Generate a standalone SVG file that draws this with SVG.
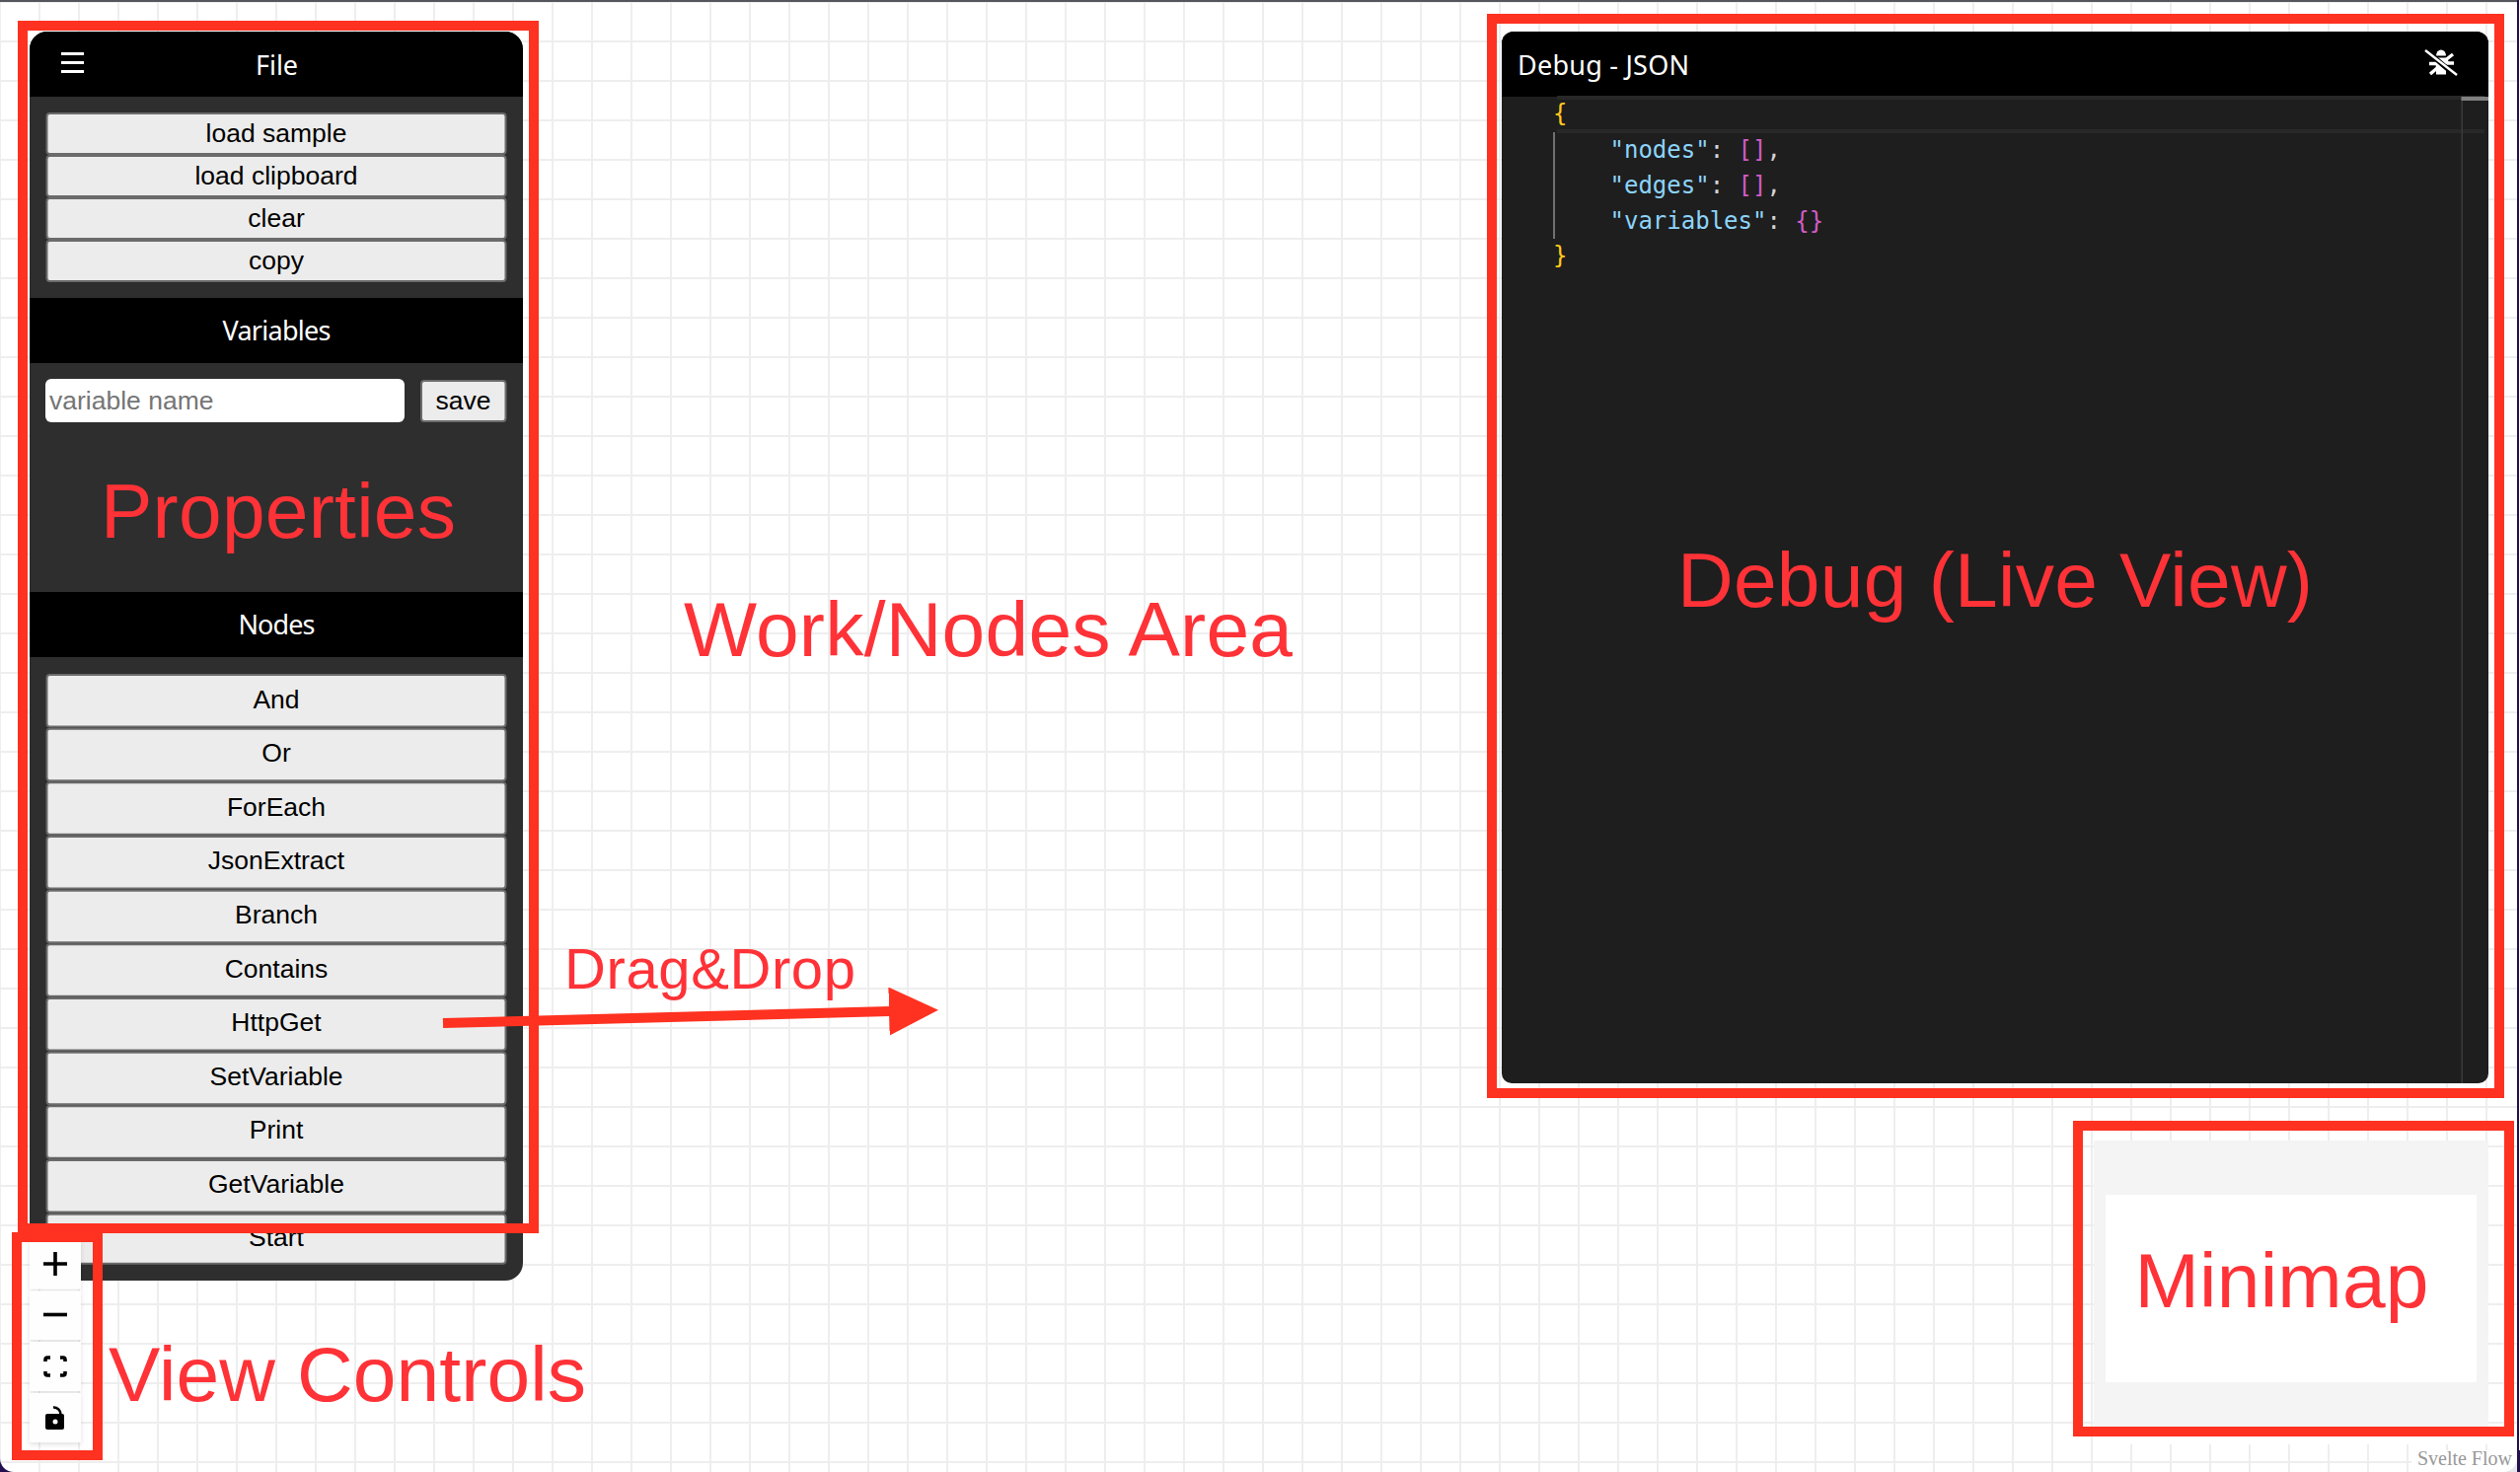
<svg xmlns="http://www.w3.org/2000/svg" width="2554" height="1492" viewBox="0 0 2554 1492">
<style>
.btn{fill:#ececec;stroke:#6b6b6b;stroke-width:2}
.bt{font-family:"Liberation Sans",Arial,sans-serif;font-size:26.5px;fill:#000;text-anchor:middle}
.hd{font-family:"Noto Sans","DejaVu Sans",sans-serif;font-size:27px;fill:#fff;text-anchor:middle}
.frame{fill:none;stroke:#ff3120;stroke-width:10}
.lb{font-family:"Liberation Sans",Arial,sans-serif;font-size:78.5px;fill:#fe3237}
.code{font-family:"DejaVu Sans Mono",monospace;font-size:24px}
.key{fill:#8dd4fa}.gold{fill:#ffc81c}.pink{fill:#d05cc4}.pun{fill:#d4d4d4}
.ico{fill:none;stroke:#000;stroke-width:3.6}
.ctl{fill:#fefefe}
</style>
<defs>
<pattern id="grid" x="-1" y="1" width="40" height="40" patternUnits="userSpaceOnUse">
<rect width="40" height="40" fill="#fff"/><rect width="2" height="40" fill="#eee"/><rect width="40" height="2" fill="#eee"/>
</pattern>
<marker id="head" markerUnits="userSpaceOnUse" markerWidth="50" markerHeight="50" refX="1" refY="24.5" orient="auto">
<path d="M0 0L50 24.5L0 49Z" fill="#ff3120"/>
</marker>
<filter id="sh" x="-20%" y="-20%" width="140%" height="140%"><feDropShadow dx="0" dy="2" stdDeviation="2.5" flood-color="#000" flood-opacity=".12"/></filter>
</defs>
<g id="window">
<rect width="2554" height="1492" fill="#24104f"/>
<path d="M0 2H2551V1478a14 14 0 0 1-14 14H14a14 14 0 0 1-14-14Z" fill="url(#grid)"/>
<rect x="0" y="0" width="2551" height="2" fill="#55555c"/>
<rect x="2553" y="0" width="1" height="1470" fill="#fff"/>
</g>
<g id="properties-panel">
<rect x="30" y="32" width="500" height="1266" rx="18" fill="#2e2e2e"/>
<path d="M30 98V50a18 18 0 0 1 18-18H512a18 18 0 0 1 18 18V98Z" fill="#000"/>
<g fill="#fff"><rect x="62" y="53" width="23" height="3"/><rect x="62" y="62" width="23" height="3"/><rect x="62" y="71" width="23" height="3"/></g>
<text class="hd" x="280.500" y="76">File</text>
<rect x="30" y="302" width="500" height="66" fill="#000"/>
<text class="hd" x="280.500" y="345" textLength="110">Variables</text>
<rect x="30" y="600" width="500" height="66" fill="#000"/>
<text class="hd" x="280.500" y="643" textLength="78">Nodes</text>
<g id="file-buttons">
<rect class="btn" x="47.500" y="115" width="465" height="41" rx="3"/><text class="bt" x="280" y="144">load sample</text>
<rect class="btn" x="47.500" y="158" width="465" height="41" rx="3"/><text class="bt" x="280" y="187">load clipboard</text>
<rect class="btn" x="47.500" y="201" width="465" height="41" rx="3"/><text class="bt" x="280" y="230">clear</text>
<rect class="btn" x="47.500" y="244" width="465" height="41" rx="3"/><text class="bt" x="280" y="273">copy</text>
</g>
<g id="variable-form">
<rect x="46" y="384" width="364" height="44" rx="6" fill="#fff"/>
<text x="50" y="415" font-family="Liberation Sans,Arial,sans-serif" font-size="26.500" fill="#757575">variable name</text>
<rect class="btn" x="427" y="386" width="85.500" height="41" rx="3"/><text class="bt" x="469.500" y="415">save</text>
</g>
<g id="node-buttons">
<rect class="btn" x="47.500" y="684" width="465" height="52.500" rx="3"/><text class="bt" x="280" y="717.500">And</text>
<rect class="btn" x="47.500" y="738.700" width="465" height="52.500" rx="3"/><text class="bt" x="280" y="771.500">Or</text>
<rect class="btn" x="47.500" y="793.300" width="465" height="52.500" rx="3"/><text class="bt" x="280" y="826.500">ForEach</text>
<rect class="btn" x="47.500" y="848" width="465" height="52.500" rx="3"/><text class="bt" x="280" y="880.700">JsonExtract</text>
<rect class="btn" x="47.500" y="902.700" width="465" height="52.500" rx="3"/><text class="bt" x="280" y="935.700">Branch</text>
<rect class="btn" x="47.500" y="957.300" width="465" height="52.500" rx="3"/><text class="bt" x="280" y="990.500">Contains</text>
<rect class="btn" x="47.500" y="1012" width="465" height="52.500" rx="3"/><text class="bt" x="280" y="1044.700">HttpGet</text>
<rect class="btn" x="47.500" y="1066.700" width="465" height="52.500" rx="3"/><text class="bt" x="280" y="1099.700">SetVariable</text>
<rect class="btn" x="47.500" y="1121.300" width="465" height="52.500" rx="3"/><text class="bt" x="280" y="1153.800">Print</text>
<rect class="btn" x="47.500" y="1176" width="465" height="52.500" rx="3"/><text class="bt" x="280" y="1208.500">GetVariable</text>
<rect class="btn" x="47.500" y="1230.700" width="465" height="50" rx="3"/><text class="bt" x="280" y="1262.700">Start</text>
</g>
</g>
<g id="debug-panel">
<path d="M1522 98V44a12 12 0 0 1 12-12H2510a12 12 0 0 1 12 12V1088a10 10 0 0 1-10 10H1532a10 10 0 0 1-10-10Z" fill="#1e1e1e"/>
<path d="M1522 98V44a12 12 0 0 1 12-12H2510a12 12 0 0 1 12 12V98Z" fill="#000"/>
<text class="hd" x="1538" y="76" style="text-anchor:start" textLength="174">Debug - JSON</text>
<g id="debug-icon">
<path d="M2469 56.500a4.500 5.500 0 0 1 10 0Z" fill="#fff"/>
<path d="M2468 58.500H2479.500L2482 63L2479 66V75.500H2469V70Z" fill="#fff"/>
<path d="M2462 64.500H2470M2463 75L2470 69M2486 55L2479 60.500M2480 64H2487" stroke="#fff" stroke-width="3.400" fill="none"/>
<path d="M2461 53L2489 77" stroke="#000" stroke-width="5" fill="none"/>
<path d="M2458 51L2490 76" stroke="#fff" stroke-width="2.400" fill="none"/>
</g>
<path d="M1578 99H2518M1578 133H2518" stroke="#282828" stroke-width="4" fill="none"/>
<rect x="2494.500" y="98" width="1.500" height="1000" fill="#3a3a3a"/>
<rect x="2494.500" y="98" width="27.500" height="4" fill="#808080"/>
<rect x="1574" y="134" width="2" height="108" fill="#707070"/>
<g id="json-text" class="code">
<text x="1574" y="123" class="gold">{</text>
<text x="1631.500" y="160" class="key">"nodes"<tspan class="pun">: </tspan><tspan class="pink">[]</tspan><tspan class="pun">,</tspan></text>
<text x="1631.500" y="196" class="key">"edges"<tspan class="pun">: </tspan><tspan class="pink">[]</tspan><tspan class="pun">,</tspan></text>
<text x="1631.500" y="232" class="key">"variables"<tspan class="pun">: </tspan><tspan class="pink">{}</tspan></text>
<text x="1574" y="267" class="gold">}</text>
</g>
</g>
<g id="view-controls" filter="url(#sh)">
<rect class="ctl" x="30" y="1256" width="52" height="50.500"/>
<rect class="ctl" x="30" y="1308.500" width="52" height="49.500"/>
<rect class="ctl" x="30" y="1360" width="52" height="50"/>
<rect class="ctl" x="30" y="1412" width="52" height="50"/>
</g>
<g id="view-control-icons">
<path class="ico" d="M44 1281H68M56 1269V1293"/>
<path class="ico" d="M44 1332.500H68"/>
<path class="ico" d="M46 1380V1378a2 2 0 0 1 2-2H51M61 1376H64a2 2 0 0 1 2 2V1380M66 1390V1392a2 2 0 0 1-2 2H61M51 1394H48a2 2 0 0 1-2-2V1390"/>
<path d="M48 1433H63a2 2 0 0 1 2 2V1447a2 2 0 0 1-2 2H48a2 2 0 0 1-2-2V1435a2 2 0 0 1 2-2Z" fill="#000"/>
<path d="M54 1426.500a7 7 0 0 1 7.500 7" stroke="#000" stroke-width="2.600" fill="none"/>
<circle cx="56" cy="1441" r="2.500" fill="#fff"/>
</g>
<g id="minimap">
<rect x="2122" y="1156" width="400" height="308" fill="#fff"/>
<rect x="2122" y="1156" width="400" height="290" fill="#f4f4f4"/>
<rect x="2134" y="1211" width="376" height="190" fill="#fff"/>
</g>
<g id="attribution">
<rect x="2444" y="1470" width="107" height="22" fill="#fff" fill-opacity=".9"/>
<text x="2546" y="1485" font-family="Liberation Serif,Times New Roman,serif" font-size="20" fill="#999" text-anchor="end">Svelte Flow</text>
</g>
<g id="frames">
<rect class="frame" x="23" y="26" width="518" height="1219"/>
<rect class="frame" x="17" y="1254" width="82" height="221"/>
<rect class="frame" x="1512" y="19" width="1021" height="1089"/>
<rect class="frame" x="2106" y="1141" width="437" height="310"/>
</g>
<g id="connectors">
<line x1="449" y1="1037" x2="902" y2="1025" stroke="#ff3120" stroke-width="10" marker-end="url(#head)"/>
</g>
<g id="labels">
<text class="lb" x="102" y="545" textLength="360">Properties</text>
<text class="lb" x="693" y="665" textLength="617">Work/Nodes Area</text>
<text class="lb" x="1700" y="615" textLength="644">Debug (Live View)</text>
<text class="lb" x="572" y="1002" style="font-size:58px" textLength="295">Drag&amp;Drop</text>
<text class="lb" x="110" y="1420" textLength="484">View Controls</text>
<text class="lb" x="2163.500" y="1325" textLength="298">Minimap</text>
</g>
</svg>
